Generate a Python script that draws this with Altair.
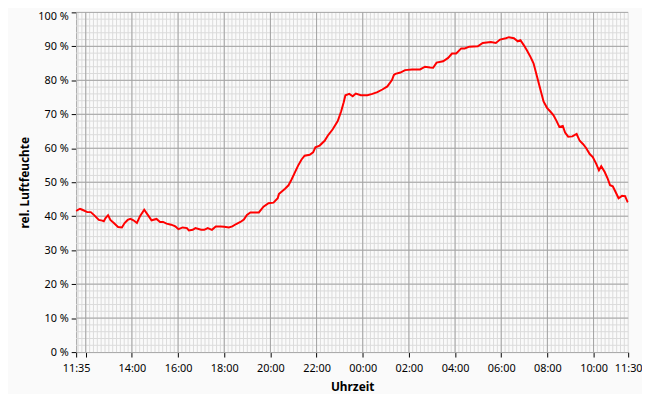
import altair as alt
import pandas as pd
import numpy as np

# Readings (clock time, relative humidity in %)
times = [
    "11:35", "11:45", "11:51", "12:04", "12:13", "12:21", "12:34", "12:43", "12:47", "12:51",
    "12:58", "13:04", "13:13", "13:24", "13:34", "13:41", "13:49", "13:56", "14:04", "14:13",
    "14:21", "14:32", "14:43", "14:51", "15:04", "15:13", "15:21", "15:30", "15:42", "15:53",
    "16:01", "16:12", "16:23", "16:28", "16:38", "16:45", "17:00", "17:08", "17:17", "17:28",
    "17:38", "17:51", "18:00", "18:12", "18:21", "18:31", "18:42", "18:51", "18:59", "19:08",
    "19:30", "19:42", "19:55", "20:08", "20:19", "20:22", "20:38", "20:47", "20:55", "21:04",
    "21:12", "21:21", "21:29", "21:42", "21:51", "21:57", "22:08", "22:21", "22:29", "22:42",
    "22:55", "23:04", "23:10", "23:15", "23:25", "23:34", "23:42", "23:55", "00:12", "00:25",
    "00:38", "00:51", "01:04", "01:16", "01:21", "01:25", "01:38", "01:50", "02:08", "02:29",
    "02:42", "02:55", "03:03", "03:12", "03:29", "03:42", "03:52", "04:03", "04:16", "04:25",
    "04:37", "04:59", "05:12", "05:33", "05:46", "05:57", "06:12", "06:20", "06:33", "06:43",
    "06:50", "06:59", "07:07", "07:16", "07:24", "07:33", "07:42", "07:50", "07:59", "08:07",
    "08:16", "08:24", "08:31", "08:40", "08:46", "08:54", "09:05", "09:16", "09:24", "09:33",
    "09:41", "09:50", "09:58", "10:07", "10:14", "10:20", "10:29", "10:37", "10:43", "10:50",
    "10:57", "11:05", "11:14", "11:22", "11:28", "11:30",
]
humidity = [
    41.6, 42.2, 41.9, 41.2, 41.2, 40.4, 38.9, 38.7, 38.5, 39.4,
    40.3, 38.9, 38.0, 36.8, 36.7, 38.0, 38.9, 39.2, 38.8, 38.0,
    40.0, 41.9, 40.1, 38.8, 39.2, 38.3, 38.3, 37.8, 37.5, 37.0,
    36.2, 36.7, 36.5, 35.8, 36.0, 36.5, 36.0, 36.0, 36.5, 36.0,
    37.0, 37.0, 36.9, 36.7, 37.0, 37.7, 38.3, 39.0, 40.4, 41.1,
    41.1, 42.8, 43.8, 44.0, 45.3, 46.5, 48.1, 49.1, 50.8, 53.0,
    54.9, 56.7, 57.8, 58.1, 58.8, 60.3, 60.8, 62.2, 63.7, 65.6,
    68.0, 70.9, 73.3, 75.6, 76.0, 75.3, 76.1, 75.6, 75.6, 76.0,
    76.5, 77.3, 78.2, 80.1, 81.6, 81.9, 82.3, 83.0, 83.2, 83.2,
    84.0, 83.8, 83.7, 85.2, 85.6, 86.6, 87.9, 87.9, 89.4, 89.4,
    89.9, 90.0, 91.0, 91.3, 91.0, 92.0, 92.4, 92.7, 92.4, 91.5,
    91.8, 90.3, 88.8, 86.9, 85.0, 81.1, 77.2, 73.8, 71.9, 70.9,
    69.7, 68.0, 66.3, 66.6, 64.6, 63.4, 63.5, 64.2, 62.2, 61.2,
    60.0, 58.3, 57.4, 55.4, 53.5, 54.7, 53.0, 51.0, 49.1, 48.8,
    47.2, 45.3, 46.0, 45.9, 44.3, 44.2,
]

x_tick_labels = ["11:35", "12:00", "14:00", "16:00", "18:00", "20:00", "22:00",
                 "00:00", "02:00", "04:00", "06:00", "08:00", "10:00", "11:30"]
y_ticks = [0, 10, 20, 30, 40, 50, 60, 70, 80, 90, 100]

# ---- build timestamps (day rolls over after midnight) ----
base = pd.Timestamp("2024-05-01")


def to_stamps(labels):
    out, day, prev = [], 0, None
    for t in labels:
        h, m = map(int, t.split(":"))
        mins = h * 60 + m
        if prev is not None and mins < prev:
            day += 1
        prev = mins
        out.append(base + pd.Timedelta(days=day, minutes=mins))
    return out


df = pd.DataFrame({"t": to_stamps(times), "rh": humidity})
tick_stamps = to_stamps(x_tick_labels)
t0, t1 = tick_stamps[0], tick_stamps[-1]


def dt(ts):
    return alt.DateTime(year=ts.year, month=ts.month, date=ts.day,
                        hours=ts.hour, minutes=ts.minute)


x_scale = alt.Scale(domain=[dt(t0), dt(t1)], nice=False)
y_scale = alt.Scale(domain=[0, 100], nice=False)

MINOR = "#dadada"
MAJOR = "#a3a3a3"

x_axis = alt.Axis(values=[dt(s) for s in tick_stamps],
                  labelExpr="timeFormat(datum.value, '%H:%M') == '12:00' ? '' : timeFormat(datum.value, '%H:%M')",
                  labelOverlap=False, labelFlush=False, grid=False,
                  domainColor=MAJOR, tickColor="#000000", tickSize=5,
                  labelPadding=6, titlePadding=8)
y_axis = alt.Axis(values=y_ticks, labelExpr="datum.value + ' %'",
                  labelBaseline={"condition": {"test": "datum.value == 100", "value": "top"},
                                 "value": "middle"},
                  labelOffset={"condition": {"test": "datum.value == 100", "value": -2},
                               "value": 0},
                  grid=False, domainColor=MAJOR, tickColor="#000000",
                  tickSize=5, labelPadding=3, titlePadding=6)

X_TITLE = "Uhrzeit"
Y_TITLE = "rel. Luftfeuchte"

# grid positions
minor_x = pd.DataFrame({"t": pd.date_range(base + pd.Timedelta(hours=11, minutes=40), t1, freq="10min")})
major_x = pd.DataFrame({"t": pd.date_range(base + pd.Timedelta(hours=12), t1, freq="2h")})
minor_y = pd.DataFrame({"rh": np.arange(2, 100, 2)})
major_y = pd.DataFrame({"rh": np.arange(10, 101, 10)})

g1 = alt.Chart(minor_x).mark_rule(color=MINOR, strokeWidth=1).encode(
    x=alt.X("t:T", scale=x_scale, axis=x_axis, title=X_TITLE))
g2 = alt.Chart(minor_y).mark_rule(color=MINOR, strokeWidth=1).encode(
    y=alt.Y("rh:Q", scale=y_scale, axis=y_axis, title=Y_TITLE))
g3 = alt.Chart(major_x).mark_rule(color=MAJOR, strokeWidth=1).encode(
    x=alt.X("t:T", scale=x_scale, axis=x_axis, title=X_TITLE))
g4 = alt.Chart(major_y).mark_rule(color=MAJOR, strokeWidth=1).encode(
    y=alt.Y("rh:Q", scale=y_scale, axis=y_axis, title=Y_TITLE))

line = alt.Chart(df).mark_line(color="#ff0000", strokeWidth=2).encode(
    x=alt.X("t:T", scale=x_scale, title=X_TITLE, axis=x_axis),
    y=alt.Y("rh:Q", scale=y_scale, title=Y_TITLE, axis=y_axis),
)

chart = alt.layer(g1, g2, g3, g4, line).properties(
    width=559, height=344,
    autosize=alt.AutoSizeParams(type="none"),
    padding={"left": 69, "top": 2, "right": 14, "bottom": 40},
    background="#fafafa",
).configure_view(strokeWidth=0).configure_axis(
    labelFont="Noto Sans", labelFontSize=11, labelColor="#000000",
    titleFont="Noto Sans", titleFontSize=12, titleFontWeight="bold", titleColor="#000000",
)

chart.save("out.html", embed_options={"renderer": "svg", "actions": False})
